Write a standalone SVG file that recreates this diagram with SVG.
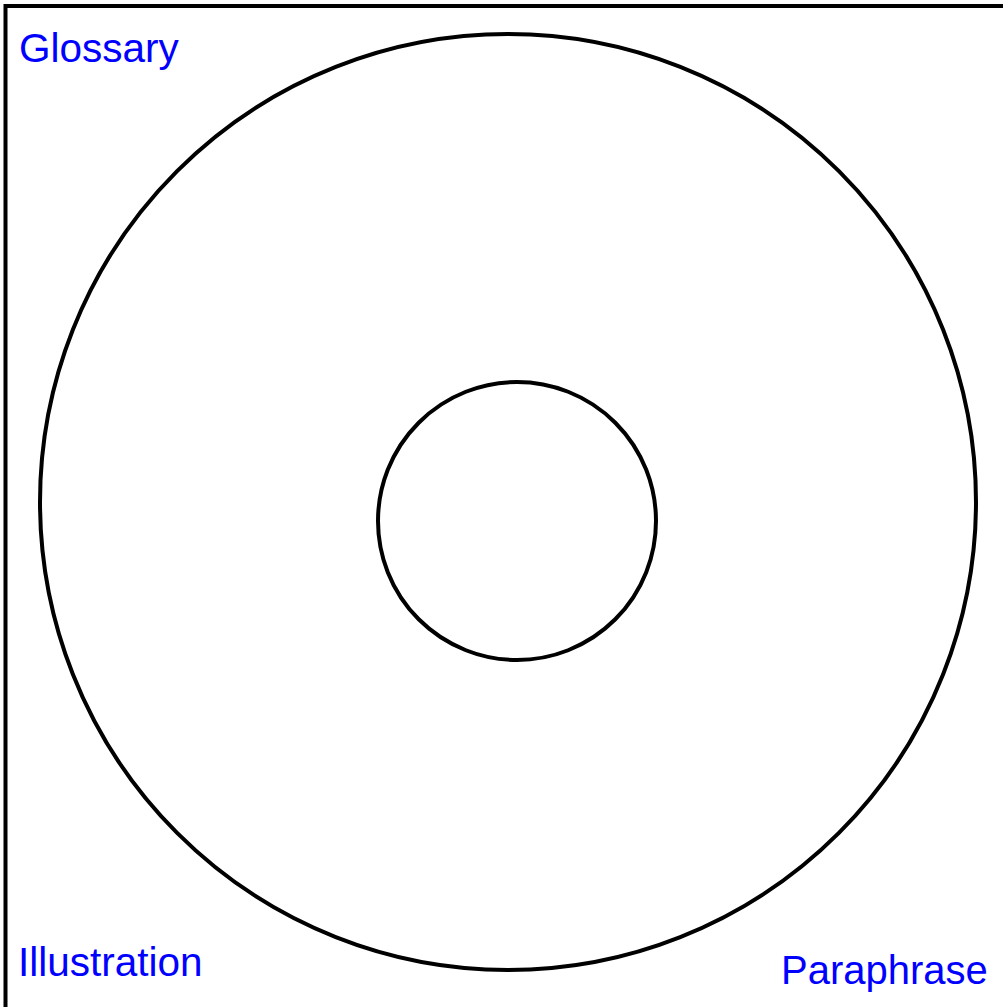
<svg xmlns="http://www.w3.org/2000/svg" width="1003" height="1007" viewBox="0 0 1003 1007">
<style>
.ring{fill:none;stroke:#000;stroke-width:4}
.lbl{font-family:"Liberation Sans",Arial,sans-serif;font-size:40.5px;fill:#0000FF}
</style>
<rect x="0" y="0" width="1003" height="1007" fill="#fff"/>
<g id="frame"><rect x="5.5" y="6" width="1100" height="1100" fill="none" stroke="#000" stroke-width="4"/></g>
<g id="outer"><circle class="ring" cx="508" cy="502" r="468"/></g>
<g id="inner"><circle class="ring" cx="517" cy="521" r="139"/></g>
<g id="connectors"></g>
<g id="glossary"><text class="lbl" x="19" y="62">Glossary</text></g>
<g id="illustration"><text class="lbl" x="18" y="976">Illustration</text></g>
<g id="paraphrase"><text class="lbl" x="781" y="984" style="font-size:40px">Paraphrase</text></g>
</svg>
